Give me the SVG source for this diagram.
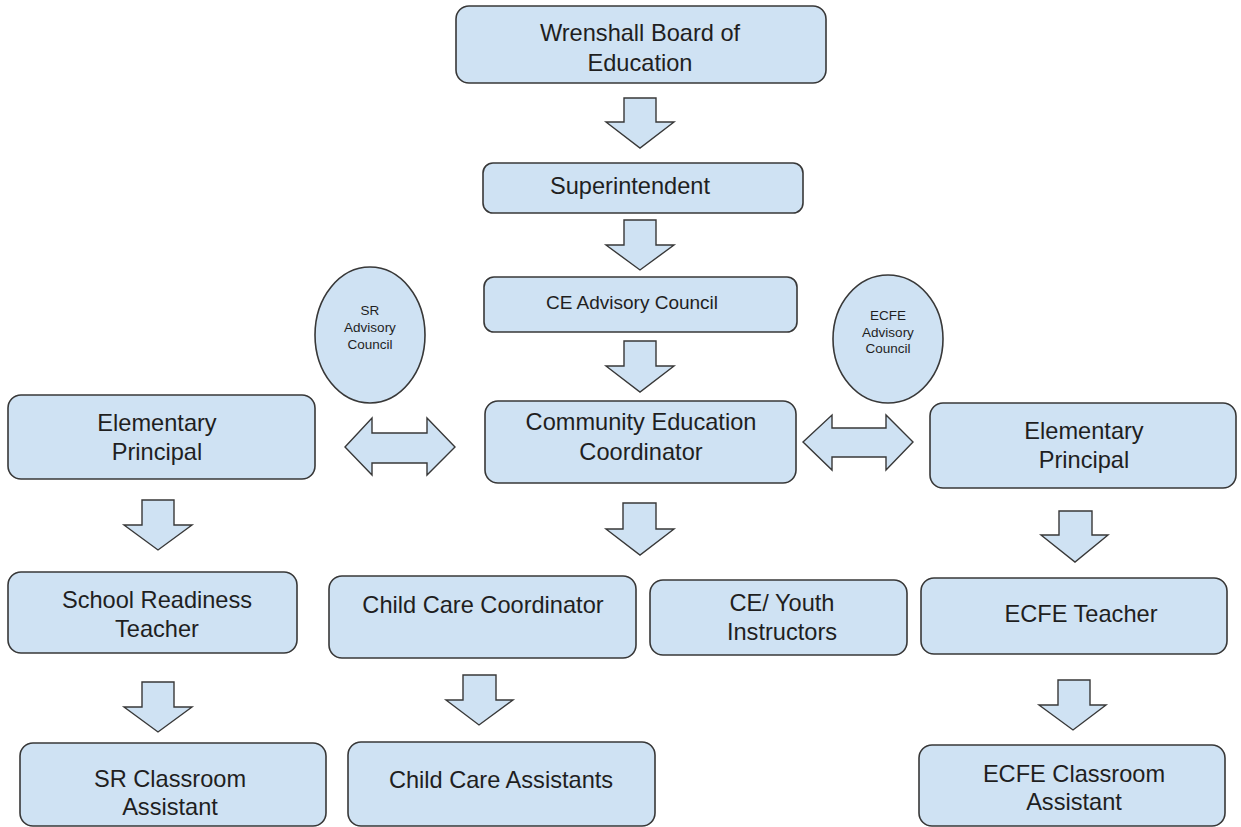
<svg xmlns="http://www.w3.org/2000/svg" width="1241" height="827" viewBox="0 0 1241 827">
<style>
.box{fill:#cfe2f3;stroke:#383838;stroke-width:1.6}
.arr{fill:#cfe2f3;stroke:#383838;stroke-width:1.4;stroke-linejoin:miter}
.t{font-family:"Liberation Sans",Arial,sans-serif;fill:#1f1f1f;text-anchor:middle;font-size:23.6px}
.tm{font-family:"Liberation Sans",Arial,sans-serif;fill:#1f1f1f;text-anchor:middle;font-size:19px}
.ts{font-family:"Liberation Sans",Arial,sans-serif;fill:#1f1f1f;text-anchor:middle;font-size:13.5px}
</style>
<rect width="1241" height="827" fill="#ffffff"/>
<g id="connectors">
<path class="arr" d="M624,98 H656 V122 H674 L640,148 L606,122 H624 Z"/>
<path class="arr" d="M624,220 H656 V245 H674 L640,270 L606,245 H624 Z"/>
<path class="arr" d="M624,341 H656 V366 H674 L640,392 L606,366 H624 Z"/>
<path class="arr" d="M623,503 H656 V529 H674 L640,555 L606,529 H623 Z"/>
<path class="arr" d="M142,500 H174 V525 H192 L158,550 L124,525 H142 Z"/>
<path class="arr" d="M142,682 H174 V707 H192 L158,732 L124,707 H142 Z"/>
<path class="arr" d="M463,675 H496 V700 H513 L479,725 L446,700 H463 Z"/>
<path class="arr" d="M1059,511 H1092 V535 H1108 L1075,562 L1041,535 H1059 Z"/>
<path class="arr" d="M1058,680 H1090 V705 H1106 L1073,730 L1039,705 H1058 Z"/>
<path class="arr" d="M345,447 L372,418 V433 H427 V418 L455,447 L427,475 V463 H372 V475 Z"/>
<path class="arr" d="M803,442 L832,415 V428 H886 V415 L913,442 L886,470 V457 H832 V470 Z"/>
</g>
<g id="n-board"><rect class="box" x="456" y="6" width="370" height="77" rx="13"/><text class="t" x="640" y="41">Wrenshall Board of</text><text class="t" x="640" y="71">Education</text></g>
<g id="n-super"><rect class="box" x="483" y="163" width="320" height="50" rx="10"/><text class="t" x="630" y="194">Superintendent</text></g>
<g id="n-ceadv"><rect class="box" x="484" y="277" width="313" height="55" rx="10"/><text class="tm" x="632" y="309">CE Advisory Council</text></g>
<g id="n-sradv"><ellipse class="box" cx="370" cy="335" rx="55" ry="68"/><text class="ts" x="370" y="315">SR</text><text class="ts" x="370" y="332">Advisory</text><text class="ts" x="370" y="349">Council</text></g>
<g id="n-ecfeadv"><ellipse class="box" cx="888" cy="339" rx="55" ry="64"/><text class="ts" x="888" y="320">ECFE</text><text class="ts" x="888" y="337">Advisory</text><text class="ts" x="888" y="353">Council</text></g>
<g id="n-cec"><rect class="box" x="485" y="401" width="311" height="82" rx="13"/><text class="t" x="641" y="430">Community Education</text><text class="t" x="641" y="460">Coordinator</text></g>
<g id="n-elemL"><rect class="box" x="8" y="395" width="307" height="84" rx="13"/><text class="t" x="157" y="431">Elementary</text><text class="t" x="157" y="460">Principal</text></g>
<g id="n-elemR"><rect class="box" x="930" y="403" width="306" height="85" rx="13"/><text class="t" x="1084" y="439">Elementary</text><text class="t" x="1084" y="468">Principal</text></g>
<g id="n-srt"><rect class="box" x="8" y="572" width="289" height="81" rx="13"/><text class="t" x="157" y="608">School Readiness</text><text class="t" x="157" y="637">Teacher</text></g>
<g id="n-ccc"><rect class="box" x="329" y="576" width="307" height="82" rx="13"/><text class="t" x="483" y="613">Child Care Coordinator</text></g>
<g id="n-ceyouth"><rect class="box" x="650" y="580" width="257" height="75" rx="13"/><text class="t" x="782" y="611">CE/ Youth</text><text class="t" x="782" y="640">Instructors</text></g>
<g id="n-ecfet"><rect class="box" x="921" y="578" width="306" height="76" rx="13"/><text class="t" x="1081" y="622">ECFE Teacher</text></g>
<g id="n-src"><rect class="box" x="20" y="743" width="306" height="83" rx="13"/><text class="t" x="170" y="787">SR Classroom</text><text class="t" x="170" y="815">Assistant</text></g>
<g id="n-cca"><rect class="box" x="348" y="742" width="307" height="84" rx="13"/><text class="t" x="501" y="788">Child Care Assistants</text></g>
<g id="n-ecfec"><rect class="box" x="919" y="745" width="306" height="81" rx="13"/><text class="t" x="1074" y="782">ECFE Classroom</text><text class="t" x="1074" y="810">Assistant</text></g>
</svg>
